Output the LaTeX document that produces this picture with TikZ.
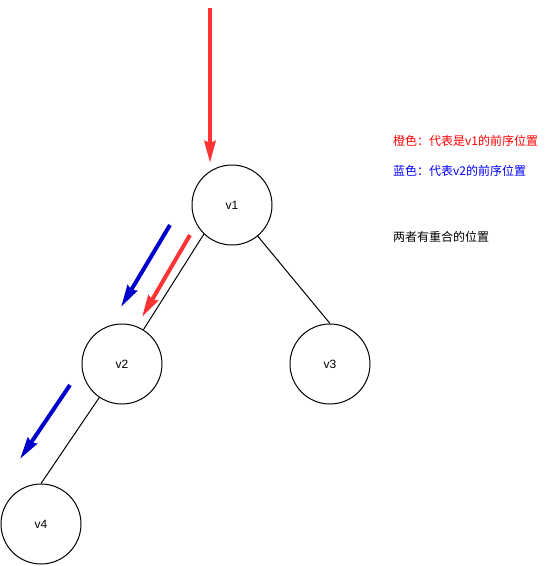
\documentclass[tikz,border=0pt]{standalone}
\usepackage{fontspec}
\setmainfont{Liberation Sans}
\newfontfamily\cjk{Noto Sans CJK SC}
\usepackage{xcolor}
\usetikzlibrary{arrows.meta}
\definecolor{trailred}{HTML}{FF3333}
\definecolor{trailblue}{HTML}{0000CC}

\begin{document}
\begin{tikzpicture}[x=1pt,y=-1pt,
        vertex/.style={draw, circle, line width=1pt, minimum size=80pt, inner sep=0pt, font=\fontsize{12}{14}\selectfont},
        trail/.style={line width=4pt, -{Stealth[length=22pt,width=11pt,inset=2pt]}},
        note/.style={anchor=west, inner sep=0pt, font=\cjk\fontsize{12}{14}\selectfont}]
        \useasboundingbox (0,0) rectangle (551,566);

        % Tree
        \node[vertex] (v1) at (232,205) {v1};
        \node[vertex] (v2) at (122,364) {v2};
        \node[vertex] (v3) at (330,364) {v3};
        \node[vertex] (v4) at (41,524) {v4};
        \draw[line width=1pt] (v1.226) -- (v2.58);
        \draw[line width=1pt] (v1) -- (v3.north);
        \draw[line width=1pt] (v2) -- (v4.north);

        % Preorder trails
        \coordinate (r1s) at (210,8);     \coordinate (r1e) at (210,163);
        \coordinate (r2s) at (190,235);   \coordinate (r2e) at (142,317);
        \coordinate (b1s) at (170,225);   \coordinate (b1e) at (121,307);
        \coordinate (b2s) at (70,385);    \coordinate (b2e) at (20,459);
        \draw[trail, trailred] (r1s) -- (r1e);
        \draw[trail, trailred] (r2s) -- (r2e);
        \draw[trail, trailblue] (b1s) -- (b1e);
        \draw[trail, trailblue] (b2s) -- (b2e);

        % Legend
        \node[note, text=red] (redlabel) at (393,141) {橙色：代表是v1的前序位置};
        \node[note, text=blue] (bluelabel) at (393,171) {蓝色：代表v2的前序位置};
        \node[note] (overlap) at (393,237) {两者有重合的位置};
    \end{tikzpicture}
\end{document}
